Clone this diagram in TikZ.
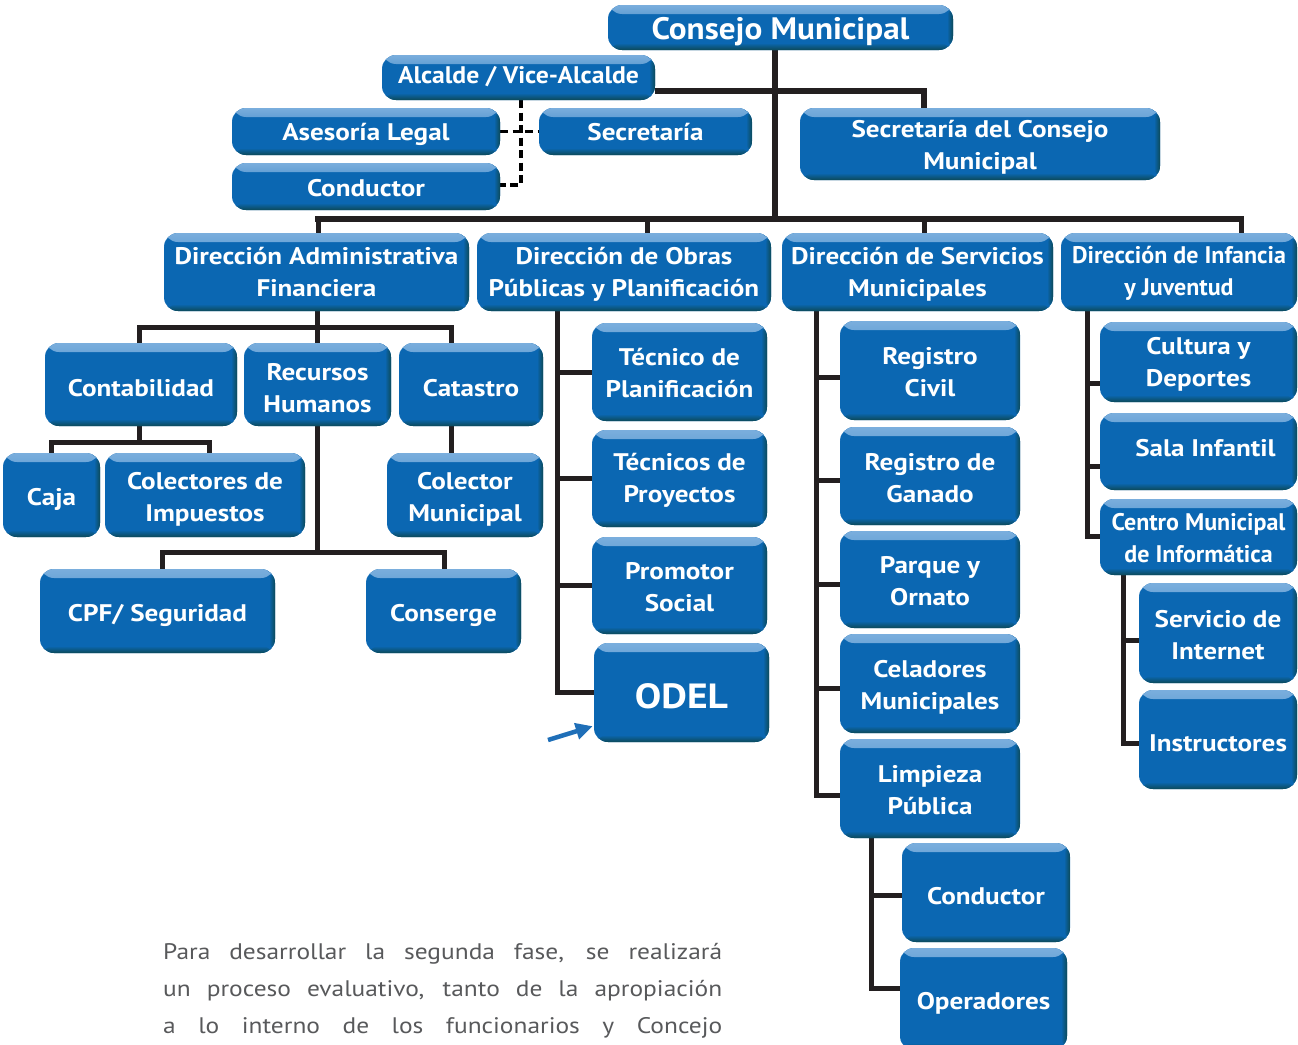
\documentclass[tikz,border=0pt]{standalone}
\usepackage{fontspec}
\setmainfont{PT Sans}[FakeStretch=1.13]
\newfontfamily\condf{PT Sans}[FakeStretch=1.0]
\newfontfamily\consf{PT Sans}[FakeStretch=1.07]
\usetikzlibrary{arrows.meta}
\pgfdeclarelayer{bg}
\pgfsetlayers{bg,main}
\definecolor{boxblue}{HTML}{0B67B2}
\definecolor{boxhi}{HTML}{7AAEDD}
\definecolor{boxdark}{HTML}{0C4A58}
\definecolor{linec}{HTML}{231F20}
\definecolor{txtgray}{HTML}{58595B}
\definecolor{arrowblue}{HTML}{1F6FB8}
\tikzset{
  obox/.style={rectangle, rounded corners=14pt, fill=boxblue, inner sep=0pt,
    path picture={
      \shade[top color=boxhi, bottom color=boxblue]
        (path picture bounding box.north west) rectangle ([yshift=-9pt]path picture bounding box.north east);
      \shade[left color=boxblue, right color=boxdark]
        ([xshift=-6pt]path picture bounding box.north east) rectangle (path picture bounding box.south east);
      \shade[top color=boxblue, bottom color=boxdark]
        ([yshift=7pt]path picture bounding box.south west) rectangle (path picture bounding box.south east);
    }},
  btext/.style={text=white, font=\bfseries\fontsize{24}{32}\selectfont, align=center, inner sep=0pt},
  condtxt/.style={font=\condf\bfseries\fontsize{24}{32}\selectfont},
  semitxt/.style={font=\consf\bfseries\fontsize{24}{32}\selectfont},
  up/.style={yshift=#1},
  mainln/.style={draw=linec, line width=6.5pt},
  subln/.style={draw=linec, line width=5pt},
  dashln/.style={draw=black, line width=3.5pt, dash pattern=on 8pt off 4.5pt},
  paratxt/.style={text=txtgray, font=\fontsize{22.5}{37}\selectfont, inner sep=0pt, anchor=base west},
}
\newcommand\ob[7][]{%
  \node[obox,minimum width={(#5-#3)*1pt},minimum height={(#6-#4)*1pt}] (#2) at ({(#3+#5)/2},{(#4+#6)/2}) {};
  \node[btext,#1] at ([yshift=-4pt]#2.center) {#7};}
\begin{document}
\begin{tikzpicture}[x=1pt,y=-1pt]
\useasboundingbox (0,0) rectangle (1298,1044);
% top level
\ob[font=\consf\bfseries\fontsize{31}{34}\selectfont]{cm}{608}{5}{953}{50}{Consejo Municipal}
\ob[semitxt,up=5pt]{al}{382}{55}{655}{100}{Alcalde / Vice-Alcalde}
\ob[up=1pt]{asl}{232}{108}{500}{155}{Asesoría Legal}
\ob[up=3pt]{sec}{539}{108}{752}{155}{Secretaría}
\ob[up=2pt]{cdx}{232}{163}{500}{210}{Conductor}
\ob[up=1pt]{scm}{800}{108}{1160}{180}{Secretaría del Consejo\\Municipal}
% directions
\ob[up=4pt]{da}{164}{233}{469}{311}{Dirección Administrativa\\Financiera}
\ob[up=2pt]{dop}{477}{233}{771}{311}{Dirección de Obras\\Públicas y Planificación}
\ob[up=2pt]{dsm}{782}{233}{1053}{311}{Dirección de Servicios\\Municipales}
\ob[condtxt,up=3pt]{dij}{1061}{233}{1297}{311}{Dirección de Infancia\\y Juventud}
% admin subtree
\ob{cont}{45}{343}{237}{426}{Contabilidad}
\ob{rh}{244}{343}{391}{426}{Recursos\\Humanos}
\ob{cat}{399}{343}{543}{426}{Catastro}
\ob{caja}{3}{453}{100}{537}{Caja}
\ob{col}{105}{453}{305}{537}{Colectores de\\Impuestos}
\ob{colm}{387}{453}{543}{537}{Colector\\Municipal}
\ob{cpf}{40}{569}{275}{653}{CPF/ Seguridad}
\ob{cons}{366}{569}{521}{653}{Conserge}
% obras subtree
\ob[up=3pt]{tp}{592}{323}{767}{421}{Técnico de\\Planificación}
\ob[up=2pt]{tpy}{592}{430}{767}{527}{Técnicos de\\Proyectos}
\ob[up=2pt]{ps}{592}{537}{767}{634}{Promotor\\Social}
\ob[font=\bfseries\fontsize{35}{38}\selectfont]{odel}{594}{643}{769}{742}{ODEL}
% servicios subtree
\ob[up=2pt]{rc}{840}{321}{1020}{420}{Registro\\Civil}
\ob[up=2pt]{rg}{840}{427}{1020}{525}{Registro de\\Ganado}
\ob[up=2pt]{po}{840}{531}{1020}{628}{Parque y\\Ornato}
\ob{cel}{840}{634}{1020}{733}{Celadores\\Municipales}
\ob[up=2pt]{lp}{840}{739}{1020}{838}{Limpieza\\Pública}
\ob{cdy}{902}{843}{1070}{942}{Conductor}
\ob{op}{900}{948}{1067}{1050}{Operadores}
% infancia subtree
\ob[up=2pt]{cyd}{1100}{322}{1297}{402}{Cultura y\\Deportes}
\ob{si}{1100}{413}{1297}{490}{\raisebox{16pt}{\hspace*{14pt}Sala Infantil}}
\ob[condtxt,up=3pt]{cmi}{1100}{499}{1297}{575}{Centro Municipal\\de Informática}
\ob[up=2pt]{sint}{1139}{583}{1297}{683}{Servicio de\\Internet}
\ob{ins}{1139}{690}{1297}{789}{Instructores}
% connectors
\begin{pgfonlayer}{bg}
\coordinate (j0) at (775,219);
\coordinate (j1) at (924,91);
\coordinate (bL) at (318,219);
\coordinate (bR) at (1241,219);
\draw[mainln] (cm.south -| j0) -- (j0);
\draw[mainln] (al.east |- j1) -- (j1) -- (j1 |- scm.north);
\draw[mainln] ([xshift=-3pt]bL) -- ([xshift=3pt]bR);
\draw[subln] (bL) -- (bL |- da.north);
\draw[subln] (647,219) -- (dop.north -| 647,0);
\draw[subln] (924,219) -- (dsm.north -| 924,0);
\draw[subln] (bR) -- (bR |- dij.north);
% dashed staff lines
\draw[dashln] (al.south -| 521,0) -- (521,185) -- (cdx.east |- 0,185);
\draw[dashln] (asl.east) -- (sec.west);
% admin
\draw[subln] (da.south -| 317,0) -- (rh.north -| 317,0);
\draw[subln] (cont.north -| 139,0) -- (139,327) -- (451,327) -- (cat.north -| 451,0);
\draw[subln] (cont.south -| 139,0) -- (139,442);
\draw[subln] (caja.north -| 51,0) |- (209,442) -- (col.north -| 209,0);
\draw[subln] (cat.south -| 451,0) -- (colm.north -| 451,0);
\draw[subln] (rh.south -| 317,0) -- (317,552);
\draw[subln] (cpf.north -| 162,0) |- (444,552) -- (cons.north -| 444,0);
% obras
\draw[subln] (dop.south -| 557,0) |- (odel.west);
\draw[subln] (tp.west) -- (tp.west -| 557,0);
\draw[subln] (tpy.west) -- (tpy.west -| 557,0);
\draw[subln] (ps.west) -- (ps.west -| 557,0);
% servicios
\draw[subln] (dsm.south -| 816,0) |- (lp.west |- 0,795);
\draw[subln] (rc.west |- 0,377) -- (816,377);
\draw[subln] (rg.west |- 0,480) -- (816,480);
\draw[subln] (po.west |- 0,584) -- (816,584);
\draw[subln] (cel.west |- 0,688) -- (816,688);
\draw[subln] (lp.south -| 871,0) |- (op.west |- 0,988);
\draw[subln] (cdy.west |- 0,895) -- (871,895);
% infancia
\draw[subln] (dij.south -| 1087,0) |- (cmi.west |- 0,536);
\draw[subln] (cyd.west |- 0,383) -- (1087,383);
\draw[subln] (si.west |- 0,466) -- (1087,466);
\draw[subln] (cmi.south -| 1123,0) |- (ins.west |- 0,743);
\draw[subln] (sint.west |- 0,640) -- (1123,640);
\end{pgfonlayer}
% arrow to ODEL
\coordinate (atail) at (548,740);
\draw[arrowblue, line width=4.5pt, -{Triangle[length=17pt,width=16pt]}] (atail) -- ([xshift=-1pt,yshift=16pt]odel.south west);
% paragraph
\node[paratxt] (p1) at (163,959) {\makebox[559pt][s]{Para desarrollar la segunda fase, se realizará}};
\node[paratxt] (p2) at (163,996) {\makebox[559pt][s]{un proceso evaluativo, tanto de la apropiación}};
\node[paratxt] (p3) at (163,1033) {\makebox[559pt][s]{a lo interno de los funcionarios y Concejo}};
\end{tikzpicture}
\end{document}
